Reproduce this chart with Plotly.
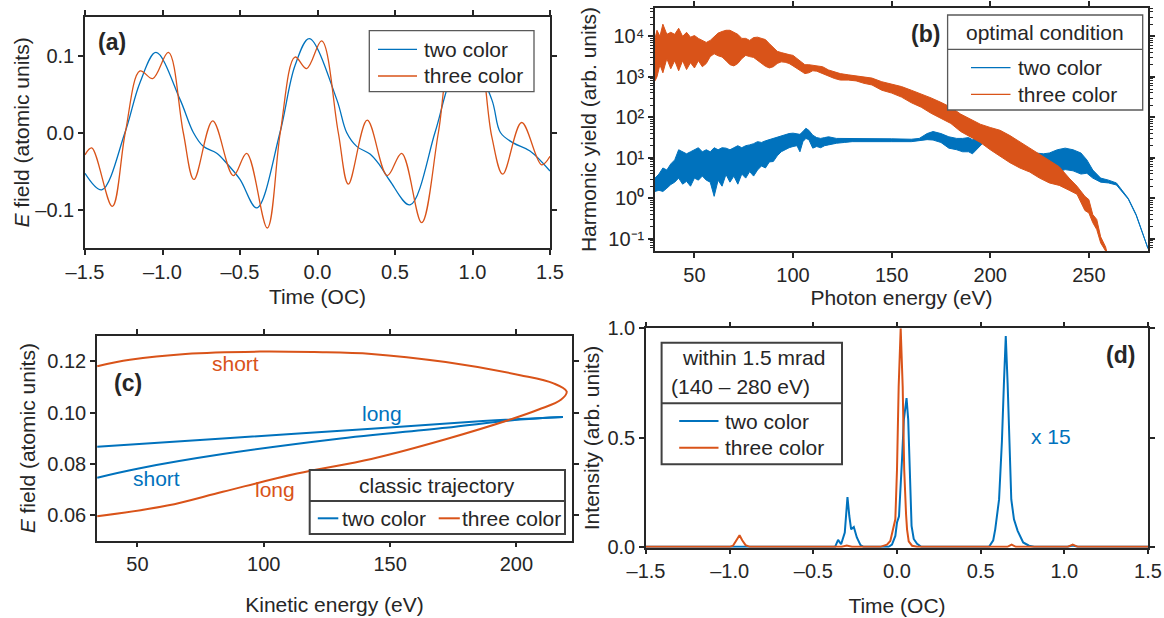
import plotly.graph_objects as go

# ---------------- data ----------------
# (a) driving fields
a_two_t = [-1.5, -1.392, -1.242, -1.145, -1.042, -0.887, -0.801, -0.737, -0.65, -0.586, -0.5, -0.392,
           -0.242, -0.145, -0.053, 0.124, 0.188, 0.253, 0.339, 0.40, 0.468, 0.597, 0.758, 0.85, 0.957,
           1.124, 1.18, 1.263, 1.371, 1.5]
a_two_E = [-0.053, -0.0745, 0.0, 0.065, 0.104, 0.043, 0.0, -0.018, -0.027, -0.040, -0.061, -0.098,
           0.0, 0.087, 0.122, 0.043, 0.0, -0.018, -0.028, -0.042, -0.063, -0.094, 0.0, 0.065, 0.108,
           0.043, 0.0, -0.0135, -0.024, -0.05]
a_three_t = [-1.5, -1.457, -1.324, -1.24, -1.145, -1.063, -0.962, -0.866, -0.797, -0.676, -0.543, -0.457,
             -0.324, -0.24, -0.145, -0.070, 0.027, 0.134, 0.199, 0.321, 0.450, 0.543, 0.672, 0.78, 0.86,
             0.935, 1.03, 1.124, 1.195, 1.317, 1.446, 1.5]
a_three_E = [-0.029, -0.020, -0.096, 0.0, 0.080, 0.070, 0.104, 0.0, -0.061, 0.015, -0.056, -0.027,
             -0.124, 0.0, 0.098, 0.083, 0.119, 0.0, -0.067, 0.016, -0.056, -0.027, -0.117, 0.0, 0.092,
             0.078, 0.112, -0.005, -0.054, 0.013, -0.042, -0.031]

# (b) harmonic spectra: upper / lower envelope of the dense harmonic comb (log10 of yield)
b_three_eV = [30, 31, 32.5, 34, 36, 38, 40, 42, 44, 46, 48, 50, 52, 54, 56, 58, 60, 62, 64, 66, 68, 70,
              72, 74, 76, 78, 80, 82, 84, 86, 88, 90, 92, 94, 96, 98, 100, 102, 104, 106, 108, 110, 112,
              115, 118, 121, 124, 128, 132, 136, 140, 145, 150, 155, 160, 165, 170, 175, 180, 185, 190,
              195, 200, 205, 210, 215, 220, 225, 230, 235, 240, 244, 248, 250, 252, 254, 256, 258.5, 259.5]
b_three_hi = [3.95, 4.15, 4.0, 4.3, 4.05, 4.1, 4.05, 4.2, 4.0, 4.1, 3.98, 4.02, 3.95, 3.9, 3.85, 3.9, 4.0,
              4.08, 4.12, 4.15, 4.15, 4.1, 4.05, 3.95, 3.95, 3.9, 3.97, 3.98, 3.95, 3.92, 3.82, 3.72, 3.63,
              3.6, 3.57, 3.55, 3.53, 3.45, 3.38, 3.3, 3.3, 3.29, 3.28, 3.25, 3.17, 3.12, 3.08, 3.05, 3.02,
              3.0, 2.97, 2.88, 2.82, 2.76, 2.67, 2.58, 2.48, 2.37, 2.25, 2.08, 1.95, 1.83, 1.75, 1.68, 1.55,
              1.4, 1.25, 1.1, 0.95, 0.78, 0.5, 0.3, 0.05, -0.03, -0.4, -0.52, -0.95, -1.2, -1.4]
b_three_lo = [2.90, 3.0, 3.3, 3.1, 3.45, 3.2, 3.4, 3.15, 3.4, 3.18, 3.35, 3.22, 3.4, 3.25, 3.33, 3.5, 3.57,
              3.52, 3.49, 3.4, 3.3, 3.27, 3.33, 3.45, 3.53, 3.5, 3.48, 3.42, 3.33, 3.26, 3.22, 3.25, 3.33,
              3.37, 3.36, 3.33, 3.27, 3.22, 3.15, 3.08, 3.1, 3.15, 3.14, 3.08, 3.02, 2.96, 2.92, 2.92, 2.9,
              2.84, 2.80, 2.67, 2.6, 2.5, 2.36, 2.25, 2.1, 1.97, 1.85, 1.65, 1.52, 1.38, 1.2, 1.03, 0.88,
              0.75, 0.65, 0.5, 0.38, 0.32, 0.2, 0.1, -0.3, -0.36, -0.6, -0.77, -1.1, -1.3, -1.4]

b_two_eV = [30, 32, 34, 36, 38, 40, 42, 44, 46, 48, 50, 52, 54, 56, 58, 60, 62, 64, 66, 68, 70, 72, 74,
            76, 78, 80, 82, 84, 86, 88, 90, 92, 94, 96, 98, 100, 102, 103.5, 105, 106.5, 108, 110, 112,
            114, 116, 118, 122, 126, 130, 140, 150, 160, 164, 168, 171, 175, 179, 183, 186, 189, 191, 194,
            197, 201, 205, 208, 212, 216, 220, 223, 227, 230, 234, 238, 242, 246, 249, 252, 256, 260, 264,
            267, 270, 274, 277, 280]
b_two_hi = [0.5, 0.6, 0.75, 0.7, 0.85, 0.95, 1.2, 1.15, 1.1, 1.15, 1.2, 1.25, 1.15, 1.2, 1.15, 1.25, 1.2,
            1.25, 1.24, 1.2, 1.25, 1.3, 1.25, 1.3, 1.32, 1.35, 1.4, 1.38, 1.42, 1.45, 1.48, 1.52, 1.55,
            1.58, 1.6, 1.61, 1.6, 1.58, 1.65, 1.73, 1.68, 1.56, 1.5, 1.48, 1.5, 1.52, 1.48, 1.48, 1.48,
            1.48, 1.47, 1.46, 1.48, 1.6, 1.65, 1.6, 1.52, 1.48, 1.48, 1.5, 1.45, 1.55, 1.65, 1.65, 1.55,
            1.48, 1.38, 1.28, 1.2, 1.12, 1.1, 1.12, 1.2, 1.24, 1.2, 1.12, 0.95, 0.7, 0.5, 0.45, 0.38, 0.2,
            0.0, -0.4, -0.8, -1.22]
b_two_lo = [0.17, 0.2, 0.17, 0.25, 0.34, 0.4, 0.5, 0.35, 0.42, 0.3, 0.5, 0.45, 0.55, 0.45, 0.4, 0.05, 0.45,
            0.3, 0.59, 0.4, 0.55, 0.35, 0.6, 0.5, 0.66, 0.55, 0.7, 0.8, 0.75, 0.9, 0.91, 1.05, 1.15, 1.2,
            1.25, 1.28, 1.3, 1.15, 1.4, 1.48, 1.45, 1.24, 1.28, 1.25, 1.3, 1.32, 1.36, 1.38, 1.4, 1.4, 1.4,
            1.4, 1.42, 1.45, 1.44, 1.38, 1.24, 1.2, 1.15, 1.15, 1.1, 1.25, 1.4, 1.37, 1.2, 1.03, 0.9, 0.79,
            0.7, 0.58, 0.55, 0.6, 0.65, 0.71, 0.68, 0.6, 0.62, 0.5, 0.4, 0.38, 0.33, 0.15, -0.02, -0.42,
            -0.82, -1.24]

# (c) classical trajectories
c_three_K = [34.1, 47, 69, 98.5, 120, 142.6, 172, 201.5, 214.7, 219.9, 217.6, 208.8, 198.5, 172, 142.6,
             113.2, 83.8, 61.8, 34.1]
c_three_E = [0.1181, 0.1206, 0.1229, 0.1238, 0.1236, 0.1229, 0.1197, 0.1146, 0.1114, 0.1082, 0.105,
             0.1012, 0.0976, 0.0896, 0.0819, 0.0762, 0.0691, 0.0637, 0.0595]
c_two_long_K = [34.1, 83.8, 142.6, 186.8, 218.4]
c_two_long_E = [0.0867, 0.0899, 0.0937, 0.0967, 0.0983]
c_two_short_K = [34.1, 50, 83.8, 128, 172, 201.5, 218.4]
c_two_short_E = [0.0746, 0.0781, 0.0838, 0.0896, 0.0941, 0.0973, 0.0983]

# (d) attosecond pulse trains
d_two_t = [-1.5, -0.37, -0.352, -0.334, -0.312, -0.296, -0.285, -0.274, -0.258, -0.24, -0.218, -0.2,
           -0.05, -0.03, -0.01, 0.0, 0.012, 0.02, 0.03, 0.041, 0.057, 0.067, 0.077, 0.087, 0.1, 0.12, 0.145,
           0.55, 0.575, 0.587, 0.61, 0.627, 0.639, 0.650, 0.661, 0.672, 0.683, 0.699, 0.721, 0.754, 0.789,
           0.82, 1.02, 1.05, 1.08, 1.5]
d_two_I = [0.0, 0.0, 0.032, 0.012, 0.065, 0.228, 0.141, 0.08, 0.091, 0.043, 0.008, 0.0,
           0.0, 0.01, 0.05, 0.111, 0.14, 0.293, 0.4, 0.582, 0.681, 0.582, 0.278, 0.096, 0.036, 0.014, 0.0,
           0.0, 0.03, 0.08, 0.217, 0.483, 0.749, 0.965, 0.749, 0.445, 0.217, 0.126, 0.073, 0.02, 0.005,
           0.0, 0.0, 0.006, 0.0, 0.0]
d_three_t = [-1.5, -1.0, -0.98, -0.96, -0.941, -0.925, -0.905, -0.88, -0.33, -0.30, -0.27, -0.1, -0.06,
             -0.04, -0.01, 0.0, 0.01, 0.022, 0.034, 0.043, 0.049, 0.054, 0.06, 0.07, 0.09, 0.12, 0.66, 0.685,
             0.71, 1.02, 1.05, 1.08, 1.5]
d_three_I = [0.0, 0.0, 0.005, 0.03, 0.053, 0.03, 0.008, 0.0, 0.0, 0.006, 0.0, 0.0, 0.01,
             0.027, 0.126, 0.354, 0.734, 1.0, 0.734, 0.354, 0.19, 0.15, 0.08, 0.025, 0.005, 0.0, 0.0, 0.01,
             0.0, 0.0, 0.01, 0.0, 0.0]

# tick labels
a_xticks = [-1.5, -1.0, -0.5, 0.0, 0.5, 1.0, 1.5]
a_xticktext = ["–1.5", "–1.0", "–0.5", "0.0", "0.5", "1.0", "1.5"]
a_yticks = [-0.1, 0.0, 0.1]
a_yticktext = ["–0.1", "0.0", "0.1"]
b_xticks = [50, 100, 150, 200, 250]
b_yticks = [0.1, 1, 10, 100, 1000, 10000]
b_yticktext = ["10⁻¹", "10⁰", "10¹", "10²", "10³", "10⁴"]
c_xticks = [50, 100, 150, 200]
c_yticks = [0.06, 0.08, 0.10, 0.12]
c_yticktext = ["0.06", "0.08", "0.10", "0.12"]
d_yticks = [0.0, 0.5, 1.0]
d_yticktext = ["0.0", "0.5", "1.0"]

# ---------------- style ----------------
BLUE = "#0072BD"
RED = "#D95319"
AX = "#262626"
TXT = "#262626"
FONT = "Liberation Sans, Arial, sans-serif"
W, H = 1164, 618


def fx(p):
    return p / W


def fy(p):
    return 1 - p / H


fig = go.Figure()

# (a)
fig.add_trace(go.Scatter(x=a_two_t, y=a_two_E, mode="lines", line=dict(color=BLUE, width=1.3, shape="spline"),
                         xaxis="x", yaxis="y", name="two color", showlegend=False))
fig.add_trace(go.Scatter(x=a_three_t, y=a_three_E, mode="lines", line=dict(color=RED, width=1.3, shape="spline"),
                         xaxis="x", yaxis="y", name="three color", showlegend=False))

# (b) band polygons
for ev, hi, lo, col, nm in [(b_two_eV, b_two_hi, b_two_lo, BLUE, "two color"),
                            (b_three_eV, b_three_hi, b_three_lo, RED, "three color")]:
    xs = list(ev) + list(ev)[::-1]
    ys = [10 ** v for v in hi] + [10 ** v for v in lo][::-1]
    fig.add_trace(go.Scatter(x=xs, y=ys, mode="lines", fill="toself", fillcolor=col,
                             line=dict(color=col, width=1), xaxis="x2", yaxis="y2", name=nm, showlegend=False))

# (c)
fig.add_trace(go.Scatter(x=c_two_long_K, y=c_two_long_E, mode="lines",
                         line=dict(color=BLUE, width=2, shape="spline"), xaxis="x3", yaxis="y3", showlegend=False))
fig.add_trace(go.Scatter(x=c_two_short_K, y=c_two_short_E, mode="lines",
                         line=dict(color=BLUE, width=2, shape="spline"), xaxis="x3", yaxis="y3", showlegend=False))
fig.add_trace(go.Scatter(x=c_three_K, y=c_three_E, mode="lines",
                         line=dict(color=RED, width=2, shape="spline"), xaxis="x3", yaxis="y3", showlegend=False))

# (d)
fig.add_trace(go.Scatter(x=d_two_t, y=d_two_I, mode="lines", line=dict(color=BLUE, width=2),
                         xaxis="x4", yaxis="y4", showlegend=False))
fig.add_trace(go.Scatter(x=d_three_t, y=d_three_I, mode="lines", line=dict(color=RED, width=2),
                         xaxis="x4", yaxis="y4", showlegend=False))

common = dict(showline=True, linecolor=AX, linewidth=1.5, mirror="ticks", ticks="outside", ticklen=5,
              tickwidth=1.5, tickcolor=AX, showgrid=False, zeroline=False, automargin=False,
              tickfont=dict(size=20, color=TXT, family=FONT))


def ttl(text, standoff):
    return dict(text=text, font=dict(size=21, color=TXT, family=FONT), standoff=standoff)


layout = dict(
    width=W, height=H, margin=dict(l=0, r=0, t=0, b=0, autoexpand=False), paper_bgcolor="white",
    plot_bgcolor="white", font=dict(family=FONT, color=TXT),
    xaxis=dict(common, domain=[fx(85), fx(550)], range=[-1.5, 1.5], anchor="y", tickmode="array",
               tickvals=a_xticks, ticktext=a_xticktext, title=ttl("Time (OC)", 8)),
    yaxis=dict(common, domain=[fy(248), fy(17)], range=[-0.15, 0.15], anchor="x", tickmode="array",
               tickvals=a_yticks, ticktext=a_yticktext, title=ttl("<i>E</i> field (atomic units)", 0)),
    xaxis2=dict(common, domain=[fx(655), fx(1148)], range=[30, 280], anchor="y2", tickmode="array",
                tickvals=b_xticks, title=ttl("Photon energy (eV)", 6)),
    yaxis2=dict(common, domain=[fy(251), fy(8)], type="log", range=[-1.3, 4.7], anchor="x2", tickmode="array",
                tickvals=b_yticks, ticktext=b_yticktext, title=ttl("Harmonic yield (arb. units)", 6),
                minor=dict(ticks="outside", ticklen=3, tickwidth=1, tickcolor=AX,
                           tickvals=[m * 10 ** k for k in range(-2, 5) for m in range(2, 10)])),
    xaxis3=dict(common, domain=[fx(97), fx(572)], range=[34, 222], anchor="y3", tickmode="array",
                tickvals=c_xticks, title=ttl("Kinetic energy (eV)", 23)),
    yaxis3=dict(common, domain=[fy(540.7), fy(335.7)], range=[0.05, 0.13], anchor="x3", tickmode="array",
                tickvals=c_yticks, ticktext=c_yticktext, title=ttl("<i>E</i> field (atomic units)", 6)),
    xaxis4=dict(common, domain=[fx(646), fx(1148)], range=[-1.5, 1.5], anchor="y4", tickmode="array",
                tickvals=a_xticks, ticktext=a_xticktext, title=ttl("Time (OC)", 17)),
    yaxis4=dict(common, domain=[fy(547.7), fy(328.3)], range=[-0.004, 1.0], anchor="x4", tickmode="array",
                tickvals=d_yticks, ticktext=d_yticktext, title=ttl("Intensity (arb. units)", 2)),
)
fig.update_layout(**layout)

shapes = []
annotations = []


def box(x0, y0, x1, y1, width=1.3, color="#595959"):
    shapes.append(dict(type="rect", xref="paper", yref="paper", x0=fx(x0), x1=fx(x1), y0=fy(y1), y1=fy(y0),
                       line=dict(color=color, width=width), fillcolor="white", layer="above"))


def hline(x0, x1, y, color, width):
    shapes.append(dict(type="line", xref="paper", yref="paper", x0=fx(x0), x1=fx(x1), y0=fy(y), y1=fy(y),
                       line=dict(color=color, width=width), layer="above"))


def text(x, y, s, size=21, anchor="left", color=TXT, bold=False):
    annotations.append(dict(xref="paper", yref="paper", x=fx(x), y=fy(y), text=("<b>%s</b>" % s) if bold else s,
                            showarrow=False, xanchor=anchor, yanchor="middle",
                            font=dict(size=size, color=color, family=FONT)))


# legend (a)
box(369.3, 30.7, 534, 91.7)
hline(378, 417, 49.3, BLUE, 1.3)
hline(378, 417, 76, RED, 1.3)
text(422, 49.3, "two color")
text(422, 76, "three color")

# legend (b)
box(947.6, 15, 1142.7, 110)
hline(947.6, 1142.7, 49.3, "#595959", 1.3)
text(1045, 32.5, "optimal condition", anchor="center")
hline(971, 1010.5, 67.7, BLUE, 1.3)
hline(971, 1010.5, 94.3, RED, 1.3)
text(1016, 67.7, "two color")
text(1016, 94.3, "three color")

# legend (c)
box(309.7, 470, 565, 534, width=2, color="#404040")
hline(309.7, 565, 501, "#404040", 2)
text(437.4, 485.7, "classic trajectory", anchor="center")
hline(317.8, 338.3, 518.3, BLUE, 2)
text(340, 518.3, "two color")
hline(438.7, 459.8, 518.3, RED, 2)
text(460, 518.3, "three color")

# legend (d)
box(661.6, 342.7, 842, 464.3, width=2, color="#404040")
hline(661.6, 842, 403.3, "#404040", 2)
text(753.5, 357.7, "within 1.5 mrad", anchor="center")
text(740.6, 386.7, "(140 – 280 eV)", anchor="center")
hline(679.2, 718.5, 421, BLUE, 2)
hline(679.2, 718.5, 447.7, RED, 2)
text(723, 421, "two color")
text(723, 447.7, "three color")

# panel labels
text(111.7, 42, "(a)", size=23, anchor="center", bold=True)
text(926, 34, "(b)", size=23, anchor="center", bold=True)
text(128, 383, "(c)", size=23, anchor="center", bold=True)
text(1120, 355, "(d)", size=23, anchor="center", bold=True)

# in-plot labels (data coordinates)
for x, y, s, col in [(88.8, 0.1191, "short", RED), (146.9, 0.0996, "long", BLUE),
                     (57.5, 0.0742, "short", BLUE), (104.6, 0.0701, "long", RED)]:
    annotations.append(dict(xref="x3", yref="y3", x=x, y=y, text=s, showarrow=False,
                            font=dict(size=21, color=col, family=FONT)))
annotations.append(dict(xref="x4", yref="y4", x=0.918, y=0.506, text="x 15", showarrow=False,
                        font=dict(size=21, color=BLUE, family=FONT)))

fig.update_layout(shapes=shapes, annotations=annotations)
fig.write_html("out.html")
